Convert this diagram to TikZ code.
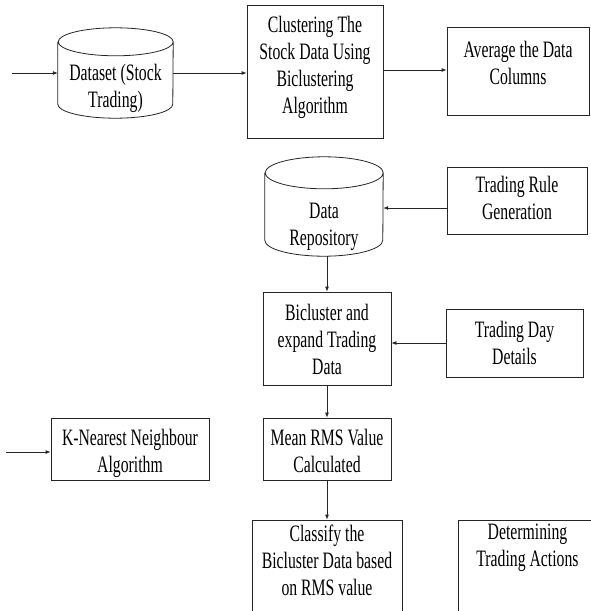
\documentclass[tikz,border=0pt]{standalone}
\usepackage{fontspec}
\setmainfont{Liberation Serif}[FakeStretch=0.67]
\usetikzlibrary{arrows.meta}

\tikzset{
  frame/.style={draw=black!85, line width=0.8pt, inner sep=0pt, rectangle},
  hidden/.style={inner sep=0pt, rectangle},
  label/.style={align=center, inner sep=0pt, text=black,
                font=\fontsize{23.5}{27}\selectfont},
  flow/.style={draw=black!85, line width=0.8pt,
               -{Latex[length=5pt,width=4pt]}},
  cylline/.style={draw=black!85, line width=0.8pt}
}

% vertical cylinder drawn over an invisible node: #1 node, #2 x radius, #3 cap y radius
\newcommand\drawcyl[3]{%
  \draw[cylline] ([yshift=-#3]#1.north west) -- ([yshift=#3]#1.south west)
    arc[start angle=180, end angle=360, x radius=#2, y radius=#3]
    -- ([yshift=-#3]#1.north east)
    arc[start angle=0, end angle=360, x radius=#2, y radius=#3];
}

\begin{document}
\begin{tikzpicture}[x=1pt, y=-1pt]
  \useasboundingbox (0,0) rectangle (591,611);
  \clip (0,0) rectangle (591,611);
  \fill[white] (0,0) rectangle (591,611);

  % storage cylinders
  \node[hidden, minimum width=115pt, minimum height=90pt] (ds) at (115.5,73) {};
  \drawcyl{ds}{57.5pt}{14pt}
  \node[label] (ds-t) at (115.5,88) {Dataset (Stock\\Trading)};

  \node[hidden, minimum width=118pt, minimum height=99pt] (rep) at (324,206.5) {};
  \drawcyl{rep}{59pt}{16pt}
  \node[label] (rep-t) at (324,227) {Data\\Repository};

  % process boxes
  \node[frame, minimum width=136pt, minimum height=133pt] (clu) at (315,71.5) {};
  \node[label] (clu-t) at (315,67.5) {Clustering The\\Stock Data Using\\Biclustering\\Algorithm};

  \node[frame, minimum width=142pt, minimum height=88pt] (avg) at (518,71) {};
  \node[label] (avg-t) at (518,62.5) {Average the Data\\Columns};

  \node[frame, minimum width=140pt, minimum height=67pt] (trg) at (517,200.5) {};
  \node[label] (trg-t) at (517,197.5) {Trading Rule\\Generation};

  \node[frame, minimum width=128pt, minimum height=93pt] (bic) at (327,338.5) {};
  \node[label] (bic-t) at (327,339) {Bicluster and\\expand Trading\\Data};

  \node[frame, minimum width=137pt, minimum height=68pt] (tdd) at (514.5,343) {};
  \node[label] (tdd-t) at (514.5,342.5) {Trading Day\\Details};

  \node[frame, minimum width=158pt, minimum height=62pt] (knn) at (130,449) {};
  \node[label] (knn-t) at (130,453) {K-Nearest Neighbour\\Algorithm};

  \node[frame, minimum width=128pt, minimum height=62pt] (rms) at (327,449) {};
  \node[label] (rms-t) at (327,451) {Mean RMS Value\\Calculated};

  \node[frame, minimum width=150pt, minimum height=120pt] (cls) at (327,580) {};
  \node[label] (cls-t) at (327,560.5) {Classify the\\Bicluster Data based\\on RMS value};

  \node[frame, minimum width=142pt, minimum height=120pt] (det) at (529,580) {};
  \node[label] (det-t) at (527.5,548) {Determining\\Trading Actions};

  % free ends of the incoming arrows
  \coordinate (in1) at (12,73);
  \coordinate (in2) at (6,452);
  \coordinate (trgout) at (447,208);

  % connectors
  \draw[flow] (in1) -- (ds.west);
  \draw[flow] (ds.east) -- (ds.east -| clu.west);
  \draw[flow] (clu.east |- 0,70) -- (avg.west |- 0,70);
  \draw[flow] (trgout) -- (trgout -| rep.east);
  \draw[flow] (bic.north |- rep.south) -- (bic.north);
  \draw[flow] (tdd.west) -- (tdd.west -| bic.east);
  \draw[flow] (bic.south) -- (rms.north);
  \draw[flow] (rms.south) -- (cls.north);
  \draw[flow] (in2) -- (in2 -| knn.west);
\end{tikzpicture}
\end{document}
